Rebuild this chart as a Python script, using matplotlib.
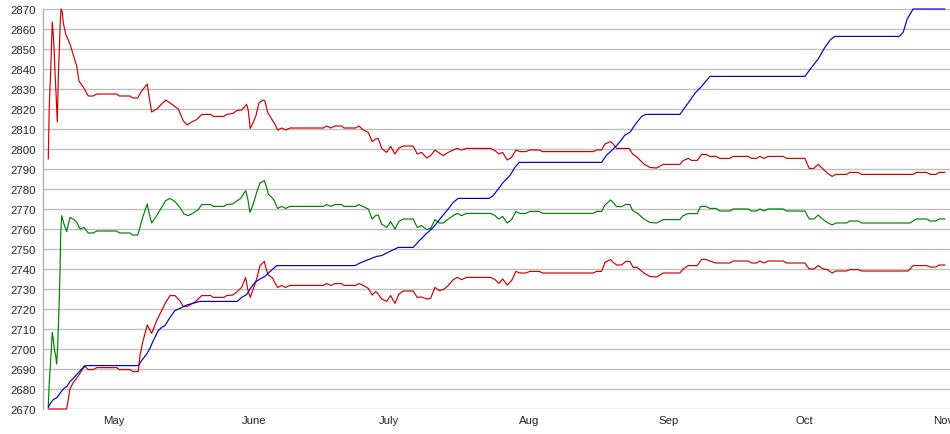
import matplotlib
matplotlib.use("Agg")
import matplotlib.pyplot as plt
import matplotlib.dates as mdates
import pandas as pd
import numpy as np

plt.rcParams['font.family'] = ['Liberation Sans', 'DejaVu Sans']

# ---- data (day offsets from 1 May, values) ----
base_date = "2007-05-01"

upper_days = [-14.57, -14.35, -14.04, -13.81, -13.68, -13.46, -13.24, -13.08, -12.86, -12.57,
              -12.35, -12.13, -11.91, -11.75, -11.46, -11.24, -10.71, -9.76, -8.87, -8.27,
              -7.76, -6.81, -5.70, -4.59, -3.84, 0.60, 1.18, 3.55, 4.15, 5.26,
              6.14, 7.38, 7.76, 8.36, 9.47, 10.58, 11.46, 12.79, 14.26, 15.37,
              16.25, 17.23, 18.34, 19.45, 21.44, 22.02, 24.39, 24.99, 26.32, 27.34,
              28.31, 29.42, 29.78, 30.22, 30.89, 31.49, 32.15, 33.10, 33.48, 34.08,
              34.74, 35.54, 36.30, 37.18, 38.07, 39.02, 46.41, 47.16, 48.05, 49.00,
              50.49, 51.00, 53.59, 54.32, 55.28, 56.39, 57.27, 58.03, 58.60, 59.36,
              60.47, 61.35, 62.31, 63.19, 64.15, 66.36, 67.25, 68.23, 69.33, 70.22,
              71.18, 72.13, 73.02, 74.12, 75.23, 76.12, 77.10, 78.20, 83.53, 84.48,
              85.37, 86.19, 87.21, 88.18, 89.14, 90.02, 91.35, 92.24, 94.30, 95.06,
              106.27, 107.03, 108.14, 108.87, 110.13, 110.71, 111.46, 114.26, 115.01, 116.03,
              117.52, 118.85, 120.33, 121.80, 125.50, 126.23, 127.34, 128.09, 129.34, 130.31,
              131.26, 132.15, 133.48, 134.37, 136.59, 137.32, 140.64, 141.40, 142.51, 143.24,
              144.12, 145.08, 148.40, 149.16, 153.22, 154.17, 155.21, 156.17, 157.27, 158.16,
              159.27, 160.09, 162.46, 163.19, 165.04, 165.79, 177.23, 177.98, 180.20, 181.09,
              182.26, 182.99, 184.26]
upper_vals = [2795, 2821.5, 2838.5, 2855, 2863.5, 2857, 2848.5, 2838, 2828.5, 2813.5,
              2835, 2849, 2863.5, 2870, 2868.5, 2863, 2857.5, 2852.5, 2846, 2841.5,
              2834, 2831, 2826.5, 2826.5, 2827.5, 2827.5, 2826.5, 2826.5, 2825.5, 2825.5,
              2829, 2832.5, 2826.5, 2818.5, 2820, 2822.5, 2824.5, 2822.5, 2820, 2814,
              2812, 2813.5, 2814.7, 2817.3, 2817.3, 2816.3, 2816.3, 2817.3, 2817.8, 2819.3,
              2819.5, 2822.3, 2819.2, 2810.3, 2813.3, 2816.7, 2823, 2824.5, 2824, 2818.3,
              2815.8, 2813, 2809.5, 2810.5, 2809.5, 2810.5, 2810.5, 2811.5, 2810.5, 2811.5,
              2811.5, 2810.5, 2810.5, 2811.5, 2809.5, 2808.3, 2803.7, 2805, 2805.3, 2800.3,
              2798.3, 2801.3, 2797.5, 2800.5, 2801.5, 2801.5, 2797.5, 2798.3, 2795.5, 2796.7,
              2799.5, 2798, 2796.7, 2798.3, 2799.5, 2800.3, 2799.5, 2800.3, 2800.3, 2799.2,
              2797.5, 2798.3, 2794.5, 2795.8, 2799.5, 2798.7, 2798.7, 2799.5, 2799.5, 2798.7,
              2798.7, 2799.5, 2799.5, 2802.5, 2803.7, 2802.5, 2800.3, 2800.3, 2797.5, 2795.8,
              2792.5, 2790.8, 2790.5, 2792.3, 2792.3, 2794.2, 2795.3, 2794.3, 2794.3, 2797.3,
              2797.3, 2796.3, 2796.3, 2795.3, 2795.3, 2796.3, 2796.3, 2795.3, 2795.3, 2796.3,
              2795.3, 2796.3, 2796.3, 2795.3, 2795.3, 2790.3, 2790.3, 2792.3, 2790, 2788,
              2786.3, 2787.3, 2787.3, 2788.3, 2788.3, 2787.3, 2787.3, 2788.3, 2788.3, 2787.3,
              2787.3, 2788.3, 2788.3]

mid_days = [-14.57, -14.35, -14.04, -13.81, -13.68, -13.46, -13.24, -12.93, -12.71, -12.48,
            -12.20, -11.97, -11.82, -11.60, -11.09, -10.49, -9.76, -8.87, -8.14, -7.54,
            -6.65, -5.70, -4.59, -3.84, 0.60, 1.18, 3.55, 4.15, 5.26, 5.76,
            6.36, 7.38, 7.76, 8.36, 9.47, 10.58, 11.46, 12.42, 13.53, 14.63,
            15.52, 16.47, 17.58, 18.69, 19.45, 21.44, 22.02, 24.39, 24.99, 26.32,
            27.34, 28.09, 29.20, 29.65, 30.16, 30.89, 31.64, 32.37, 33.33, 33.86,
            34.21, 35.19, 35.54, 36.30, 37.18, 38.07, 39.02, 46.41, 47.16, 48.05,
            49.00, 50.49, 51.00, 53.59, 54.32, 55.28, 56.39, 57.27, 58.03, 58.60,
            59.36, 60.47, 61.35, 62.31, 63.19, 64.15, 66.36, 67.25, 68.23, 69.33,
            70.22, 71.18, 72.13, 73.02, 74.12, 75.23, 76.12, 77.10, 78.20, 83.53,
            84.48, 85.37, 86.19, 87.21, 88.18, 89.14, 90.02, 91.35, 92.24, 94.30,
            95.06, 106.27, 107.03, 108.14, 108.87, 110.13, 110.71, 111.46, 112.57, 113.53,
            114.41, 115.01, 116.03, 117.52, 118.85, 120.33, 121.80, 125.50, 126.23, 127.34,
            129.34, 130.09, 131.26, 132.15, 133.48, 134.37, 136.59, 137.32, 140.64, 141.40,
            142.51, 143.24, 144.12, 145.08, 148.40, 149.16, 153.22, 154.17, 155.21, 156.17,
            157.27, 158.16, 159.27, 160.09, 162.46, 163.19, 165.04, 165.79, 176.50, 177.98,
            180.20, 181.09, 182.26, 182.99, 184.26]
mid_vals = [2671, 2683.3, 2694.2, 2703.3, 2708.3, 2705, 2700, 2696.7, 2692.5, 2701.7,
            2720, 2738.3, 2757.5, 2766.7, 2762.5, 2758.7, 2765.8, 2764.7, 2763, 2760,
            2760.8, 2758, 2758, 2759, 2759, 2758, 2758, 2757, 2757, 2760.8,
            2765.8, 2772.5, 2768.3, 2763, 2766.7, 2770.8, 2774.2, 2775.3, 2773.7, 2770.8,
            2767.5, 2766.7, 2768, 2769.7, 2772.2, 2772.2, 2771.3, 2771.3, 2772.2, 2772.5,
            2774.2, 2775.3, 2779.2, 2775.3, 2768.3, 2772.5, 2778.3, 2783, 2784.2, 2780.8,
            2777.5, 2775.3, 2774.2, 2770.3, 2771.3, 2770.3, 2771.3, 2771.3, 2772.2, 2771.3,
            2772.2, 2772.2, 2771.3, 2771.3, 2772.2, 2771.2, 2770, 2765, 2766.7, 2767,
            2762.5, 2760.8, 2763.7, 2760, 2763.7, 2765, 2765, 2760.8, 2761.7, 2759.7,
            2760.3, 2764.7, 2763, 2763, 2765, 2766.7, 2767.8, 2766.7, 2767.8, 2767.8,
            2766.7, 2765, 2766.3, 2763, 2764.7, 2768.7, 2767.8, 2767.8, 2768.8, 2768.8,
            2767.8, 2767.8, 2768.8, 2768.8, 2772, 2774.5, 2773.3, 2771.2, 2771.2, 2772.3,
            2772.3, 2769.2, 2768, 2765, 2763.3, 2763, 2764.7, 2764.7, 2766.7, 2767.7,
            2767.7, 2771.3, 2771.3, 2770.3, 2770.3, 2769, 2769, 2770, 2770, 2769,
            2769, 2770, 2769, 2770, 2770, 2769, 2769, 2765, 2765, 2767,
            2764.7, 2763.3, 2762, 2763, 2763, 2764, 2764, 2763, 2763, 2765,
            2765, 2764, 2764, 2765, 2765]

lower_days = [-14.57, -10.49, -9.76, -9.02, -8.14, -7.16, -6.59, -5.70, -4.59, -3.84,
              0.60, 1.18, 3.55, 4.15, 5.39, 5.76, 6.36, 7.38, 7.76, 8.36,
              9.47, 10.58, 11.46, 12.42, 13.53, 14.63, 15.37, 16.25, 17.23, 18.34,
              19.45, 21.44, 22.02, 24.39, 24.99, 26.32, 27.34, 28.31, 29.20, 29.65,
              30.22, 30.89, 31.64, 32.37, 33.33, 33.86, 34.21, 35.19, 35.54, 36.30,
              37.18, 38.07, 39.02, 46.41, 47.16, 48.05, 49.00, 50.49, 51.00, 53.59,
              54.32, 55.28, 56.39, 57.27, 58.03, 58.60, 59.36, 60.47, 61.35, 62.31,
              63.19, 64.15, 66.36, 67.25, 68.23, 69.33, 70.22, 71.18, 72.13, 73.02,
              74.12, 75.23, 76.12, 77.10, 78.20, 83.53, 84.48, 85.37, 86.19, 87.21,
              88.18, 89.14, 90.02, 91.35, 92.24, 94.30, 95.06, 106.27, 107.03, 108.14,
              108.87, 110.13, 110.71, 111.46, 112.57, 113.53, 114.41, 115.14, 116.03, 117.52,
              118.85, 120.33, 121.80, 125.50, 126.23, 127.34, 129.34, 130.31, 131.26, 132.15,
              133.48, 136.59, 137.32, 140.64, 141.40, 142.51, 143.24, 144.12, 145.08, 148.40,
              149.16, 153.22, 154.17, 155.21, 156.17, 157.27, 158.16, 159.27, 160.09, 162.46,
              163.19, 165.04, 165.79, 176.12, 177.23, 180.20, 181.09, 182.26, 182.99, 184.26]
lower_vals = [2670, 2670, 2680, 2683.3, 2685.8, 2689.2, 2691.7, 2689.7, 2689.7, 2690.7,
              2690.7, 2689.7, 2689.7, 2688.7, 2688.7, 2696.7, 2703.3, 2712, 2710.3, 2707.8,
              2714.2, 2719.2, 2723.3, 2726.7, 2726.7, 2724, 2721.3, 2721.3, 2722.5, 2724.2,
              2726.7, 2726.7, 2725.8, 2725.8, 2726.7, 2727, 2728.7, 2730.8, 2735.8, 2730,
              2725.8, 2730, 2735, 2741.7, 2743.8, 2739.2, 2737, 2735.5, 2733.7, 2730.8,
              2731.7, 2730.8, 2731.8, 2731.8, 2732.7, 2731.8, 2732.7, 2732.7, 2731.8, 2731.8,
              2732.7, 2731.8, 2730.3, 2727, 2728.7, 2727.5, 2725, 2723.8, 2726.7, 2722.8,
              2727.5, 2729, 2729, 2725.8, 2726, 2725, 2725.3, 2730.8, 2729.2, 2729.7,
              2731.7, 2734.7, 2735.8, 2734.7, 2735.8, 2735.8, 2734.7, 2732.8, 2735, 2732,
              2734.2, 2738.8, 2738, 2738, 2738.8, 2738.8, 2738, 2738, 2738.8, 2738.8,
              2743.3, 2744.7, 2743.3, 2742, 2742, 2743.8, 2743.8, 2740.8, 2740.8, 2738,
              2736.3, 2736, 2738, 2738, 2740, 2741.7, 2741.7, 2744.8, 2744.8, 2744,
              2743, 2743, 2744, 2744, 2743, 2743, 2744, 2743, 2744, 2744,
              2743, 2743, 2740, 2740, 2741.7, 2740, 2739.7, 2738, 2739, 2739,
              2739.7, 2739.7, 2739, 2739, 2741.7, 2741.7, 2741, 2741, 2742, 2742]

high_days = [-14.57, -14.19, -13.46, -12.57, -11.82, -11.09, -10.49, -9.76, -9.02, -8.14,
             -7.16, -6.21, 5.39, 6.14, 7.25, 7.98, 8.71, 9.82, 10.58, 11.31,
             12.42, 13.53, 14.63, 16.12, 19.07, 27.34, 28.31, 29.42, 30.16, 31.26,
             32.37, 33.48, 34.59, 36.08, 53.44, 54.55, 56.76, 58.25, 59.36, 61.20,
             63.04, 66.36, 67.85, 69.33, 70.80, 72.28, 74.12, 75.23, 76.34, 83.22,
             84.10, 85.21, 86.32, 87.80, 88.91, 89.87, 108.14, 109.25, 110.35, 111.46,
             112.35, 113.30, 114.41, 115.52, 117.01, 117.96, 125.50, 126.61, 127.72, 128.82,
             130.31, 132.15, 153.22, 154.70, 156.17, 157.65, 158.91, 159.87, 174.12, 175.01,
             175.90, 177.23, 184.26]
high_vals = [2670.8, 2672.5, 2674.7, 2675.8, 2678.3, 2680.3, 2681.2, 2683.7, 2685.3, 2687.5,
             2690, 2691.7, 2691.7, 2694.2, 2697.5, 2700.3, 2704.2, 2709.2, 2710.8, 2711.7,
             2715.8, 2719.2, 2720.3, 2722, 2723.8, 2723.8, 2725.8, 2727.2, 2730, 2733.3,
             2735, 2736.3, 2738.7, 2741.7, 2741.7, 2743, 2745, 2746.3, 2746.7, 2748.8,
             2750.8, 2750.8, 2754.5, 2757.8, 2760.8, 2765, 2770, 2773.3, 2775.3, 2775.3,
             2776.7, 2780, 2783.3, 2786.7, 2790.8, 2793.3, 2793.3, 2797, 2799.2, 2801.7,
             2804, 2807, 2808.3, 2812, 2816.3, 2817.3, 2817.3, 2820.8, 2824.2, 2827.8,
             2831.3, 2836.3, 2836.3, 2840.8, 2845, 2850.8, 2854.7, 2856.3, 2856.3, 2858.3,
             2865, 2870, 2870]

month_labels = ["May", "June", "July", "Aug", "Sep", "Oct", "Nov"]
month_starts = ["2007-05-01", "2007-06-01", "2007-07-01", "2007-08-01",
                "2007-09-01", "2007-10-01", "2007-11-01"]
y_ticks = list(range(2670, 2871, 10))


def to_dates(days):
    return pd.Timestamp(base_date) + pd.to_timedelta(np.array(days), unit="D")


fig = plt.figure(figsize=(9.5, 4.35), dpi=100)
ax = fig.add_axes([43 / 950, 25 / 435, 907 / 950, 400 / 435])

lw = 0.85
ax.plot(to_dates(upper_days), upper_vals, color="#cc0000", lw=lw, clip_on=False, zorder=3)
ax.plot(to_dates(lower_days), lower_vals, color="#cc0000", lw=lw, clip_on=False, zorder=3)
ax.plot(to_dates(mid_days), mid_vals, color="#008000", lw=lw, clip_on=False, zorder=3)
ax.plot(to_dates(high_days), high_vals, color="#0000cc", lw=lw, clip_on=False, zorder=4)

ax.set_ylim(2670, 2870)
x0 = pd.Timestamp(base_date) - pd.Timedelta(days=15.74)
x1 = pd.Timestamp(base_date) + pd.Timedelta(days=185.4)
ax.set_xlim(x0, x1)

ax.set_yticks(y_ticks)
ax.set_yticklabels([str(v) for v in y_ticks])
ax.set_xticks(pd.to_datetime(month_starts))
ax.set_xticklabels(month_labels)

ax.yaxis.grid(True, color="#c0c0c0", lw=1.0, zorder=0)
ax.xaxis.grid(False)
ax.set_axisbelow(True)

for s in ["top", "right", "bottom"]:
    ax.spines[s].set_visible(False)
ax.spines["left"].set_color("#b0b0b0")
ax.spines["left"].set_linewidth(1.0)

ax.tick_params(axis="both", length=0, labelsize=8.2, labelcolor="#222222")
ax.tick_params(axis="y", pad=5)
ax.tick_params(axis="x", pad=4.5)

fig.savefig("out.png", dpi=100, facecolor="white")
